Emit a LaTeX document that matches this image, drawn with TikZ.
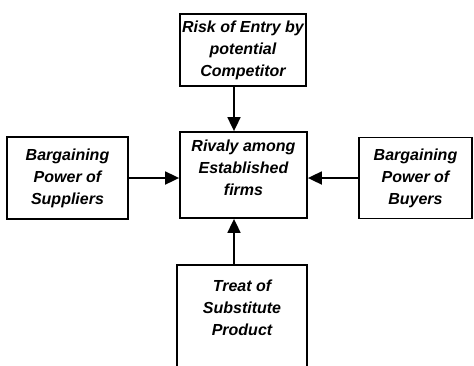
\documentclass[tikz,border=0pt]{standalone}
\usepackage{fontspec}
\setmainfont{Liberation Sans}
\usetikzlibrary{arrows.meta}

\begin{document}
\begin{tikzpicture}[x=1pt,y=-1pt,>={Triangle[length=14pt,width=13pt]},
    force/.style={rectangle,draw,line width=1.8pt,align=center,inner sep=0pt,
      font=\bfseries\itshape\fontsize{16}{22}\selectfont}]
    \useasboundingbox (0,0) rectangle (474,365);
    \clip (0,0) rectangle (474,365);
    \node (entry) at (243,50) [force,minimum width=126,minimum height=72]{Risk of Entry by\\potential\\Competitor};
    \node (rivalry) at (243.5,175) [force,minimum width=127,minimum height=86]{Rivaly among\\Established\\firms\\[-8pt]};
    \node (suppliers) at (67.5,178) [force,minimum width=121,minimum height=82]{Bargaining\\Power of\\Suppliers};
    \node (buyers) at (415.5,178) [force,minimum width=113,minimum height=81]{Bargaining\\Power of\\Buyers};
    \node (substitute) at (242,264) [force,anchor=north,minimum width=130,minimum height=130]{Treat of\\Substitute\\Product\\~\\~};
    \draw [->,line width=1.8pt] ([xshift=-9pt]entry.south) -- ([xshift=-9pt]entry.south |- rivalry.north);
    \draw [->,line width=1.8pt] (suppliers.east) -- (suppliers.east -| rivalry.west);
    \draw [->,line width=1.8pt] (buyers.west) -- (buyers.west -| rivalry.east);
    \draw [->,line width=1.8pt] ([xshift=-8pt]substitute.north) -- ([xshift=-8pt]substitute.north |- rivalry.south);
  \end{tikzpicture}
\end{document}
